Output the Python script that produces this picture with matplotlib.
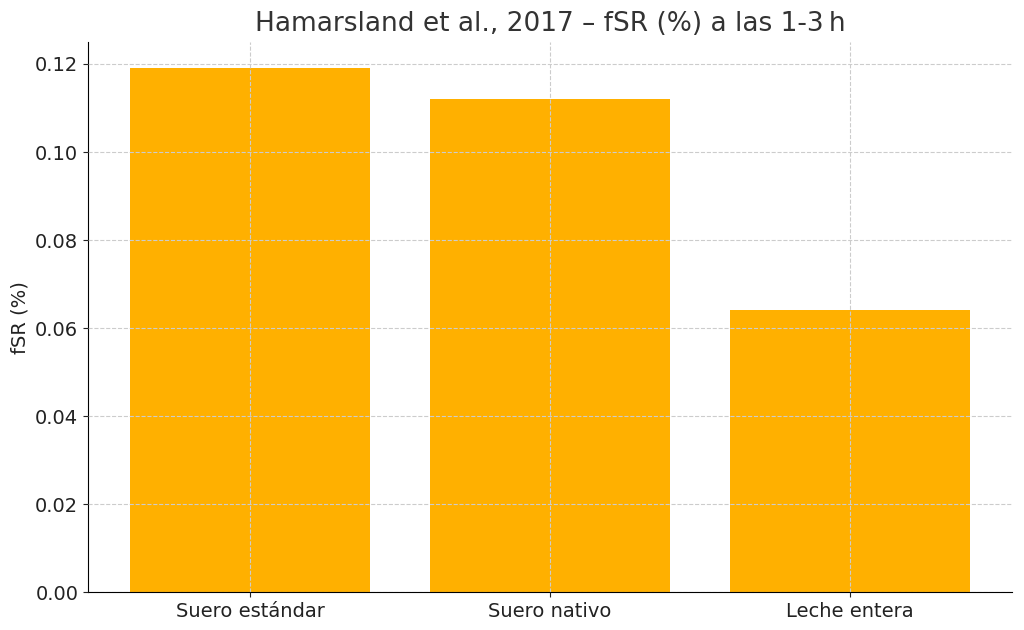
import matplotlib.pyplot as plt

categories = ["Suero estándar", "Suero nativo", "Leche entera"]
fsr_values = [0.119, 0.112, 0.064]

fig, ax = plt.subplots(figsize=(10.24, 6.3), dpi=100)
fig.subplots_adjust(left=0.086, right=0.988, top=0.933, bottom=0.06)

ax.bar(categories, fsr_values, color="#FFB000", width=0.8)
ax.set_axisbelow(False)
ax.grid(True, linestyle="--", color="#cccccc", linewidth=0.8)

ax.set_title("Hamarsland et al., 2017 – fSR (%) a las 1-3\u2009h", fontsize=19, color="#333333", pad=8)
ax.set_ylabel("fSR (%)", fontsize=14, color="#222222")
ax.tick_params(labelsize=14, colors="#222222")
ax.spines["top"].set_visible(False)
ax.spines["right"].set_visible(False)

fig.savefig("out.png", dpi=100)
